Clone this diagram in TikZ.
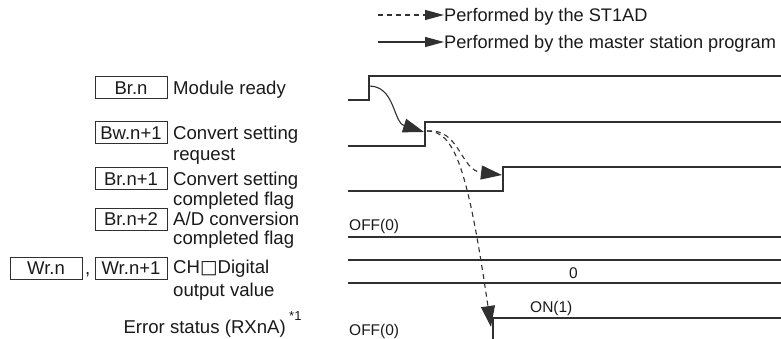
\documentclass[tikz,border=0pt]{standalone}
\usepackage{fontspec}
\setmainfont{Liberation Sans}
\newfontfamily\symfont{DejaVu Sans}
\usetikzlibrary{arrows.meta}
\definecolor{ln}{HTML}{303030}
\definecolor{tx}{HTML}{1A1A1A}
\begin{document}
\begin{tikzpicture}[x=1pt,y=-1pt,
  sig/.style={draw=ln,line width=1.3pt},
  regbox/.style={draw=ln,line width=1pt,minimum width=72pt,minimum height=22pt,inner sep=0pt,
    font=\fontsize{18.5}{20}\selectfont,text=tx},
  lbl/.style={anchor=base west,font=\fontsize{18.6}{21}\selectfont,text=tx,inner sep=0pt},
  leg/.style={anchor=base west,font=\fontsize{18.2}{21}\selectfont,text=tx,inner sep=0pt},
  small/.style={anchor=base west,font=\fontsize{15.5}{17}\selectfont,text=tx,inner sep=0pt},
  bigtip/.style={-{Triangle[length=21pt,width=14pt]}},
  legtip/.style={-{Triangle[length=19pt,width=10pt]}},
  dsh/.style={dash pattern=on 5pt off 4pt},
  ]
\useasboundingbox (0,0) rectangle (781,339);

% legend
\coordinate (d0) at (378,15);
\node[leg] (ld) at (444,21.5) {Performed by the ST1AD};
\draw[line width=1.1pt,ln,dsh,legtip] (d0) -- (ld.base west |- d0);
\coordinate (s0) at (378,42);
\node[leg] (ls) at (444,48.5) {Performed by the master station program};
\draw[line width=1.1pt,ln,legtip] (s0) -- (ls.base west |- s0);

% left labels
\node[regbox] (b1) at (131,88) {Br.n};
\node[lbl] (t1) at (173,94.5) {Module ready};
\node[regbox] (b2) at (131,133) {Bw.n+1};
\node[lbl] (t2a) at (173,139.5) {Convert setting};
\node[lbl] (t2b) at (173,160.5) {request};
\node[regbox] (b3) at (131,179) {Br.n+1};
\node[lbl] (t3a) at (173,185.5) {Convert setting};
\node[lbl] (t3b) at (173,205.5) {completed flag};
\node[regbox] (b4) at (131,219) {Br.n+2};
\node[lbl] (t4a) at (173,225.5) {A/D conversion};
\node[lbl] (t4b) at (173,244.5) {completed flag};
\node[regbox] (b5a) at (46,268) {Wr.n};
\node[lbl] (cm) at (85,274.5) {,};
\node[regbox] (b5b) at (131,268) {Wr.n+1};
\node[lbl] (t5a) at (173,273.5) {CH{\symfont □}Digital};
\node[lbl] (t5b) at (173,296.5) {output value};
\node[lbl,anchor=base east] (t6) at (286,333.5) {Error status (RXnA)};
\node[anchor=base west,font=\fontsize{13}{14}\selectfont,text=tx,inner sep=0pt] (t6s) at (289,320) {*1};

% signals
\draw[sig] (348,100) -- (369,100) coordinate (r1) -- (369,76) -- (781,76);
\draw[sig] (348,146) -- (425,146) -- (425,122) coordinate (r2) -- (781,122);
\draw[sig] (348,191) -- (503,191) -- (503,167) coordinate (r3) -- (781,167);
\draw[sig] (348,237) -- (781,237);
\draw[sig] (348,260) -- (781,260);
\draw[sig] (348,283) -- (781,283);
\draw[sig] (493,339) -- (493,318) coordinate (r6) -- (781,318);

\node[small] (off1) at (349,230.5) {OFF(0)};
\node[small] (zero) at (569,278.5) {0};
\node[small] (on1) at (530,312.5) {ON(1)};
\node[small] (off2) at (349,335.5) {OFF(0)};

% cause arrows
\coordinate (a1) at (369,86);
\coordinate (a2) at (424,132);
\coordinate (a3) at (427,131);
\coordinate (a4) at (502,175);
\coordinate (a5) at (491,327);
\draw[line width=1.1pt,ln,bigtip] (a1) .. controls (395,86) and (393,122) .. (a2);
\draw[line width=1.1pt,ln,dsh,bigtip] (a3) .. controls (460,128) and (460,170) .. (a4);
\draw[line width=1.1pt,ln,dsh,bigtip] (a3) .. controls (455,131) and (468,170) .. (a5);
\end{tikzpicture}
\end{document}
